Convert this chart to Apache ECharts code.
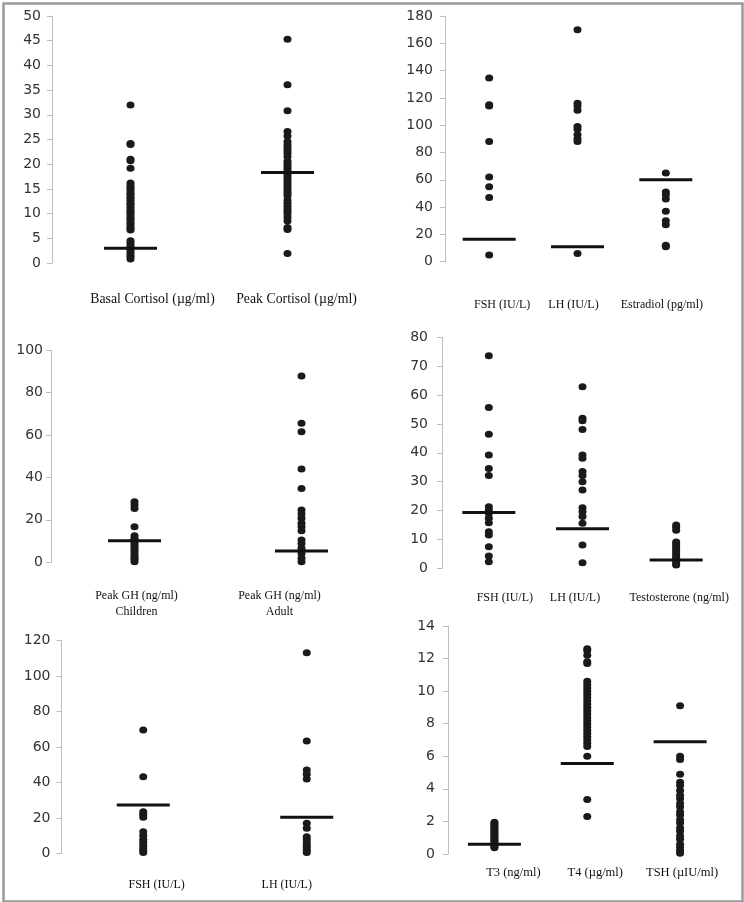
<!DOCTYPE html>
<html>
<head>
<meta charset="utf-8">
<script src="https://cdn.jsdelivr.net/npm/echarts@6/dist/echarts.min.js"></script>
<style>html,body{margin:0;padding:0;background:#fff}#c{width:744px;height:902px}</style>
</head>
<body>
<div id="c"></div>
<script>
// ---- Data ----
const p1Cats = ['Basal Cortisol (µg/ml)', 'Peak Cortisol (µg/ml)'];
const basalCortisol = [32, 24.2, 24, 21, 20.7, 19.2, 16.2, 15.8, 15.3, 15, 14.6, 14.1, 13.8, 13.3, 13, 12.6, 12.1, 11.8, 11.4, 11, 10.5, 10.2, 9.8, 9.3, 9, 8.6, 8.1, 7.8, 7.3, 7, 6.7, 4.5, 4.1, 3.6, 3.1, 2.6, 2.1, 1.6, 1.2, 0.8];
const peakCortisol = [45.3, 36.1, 30.8, 26.6, 25.7, 24.6, 24, 23.4, 22.8, 22.2, 21.5, 20.6, 20.1, 19.6, 19.1, 18.6, 18.1, 17.6, 17.1, 16.6, 16.1, 15.6, 15.1, 14.6, 14.1, 13.6, 12.7, 12.1, 11.5, 11, 10.5, 9.9, 9.2, 8.5, 7.2, 6.8, 1.9];
const p1Medians = [3, 18.3];

const p2Cats = ['FSH (IU/L)', 'LH (IU/L)', 'Estradiol (pg/ml)'];
const fshFemale = [134.5, 115, 114, 88, 62, 55, 47, 5];
const lhFemale = [170, 116, 114, 111, 99, 97, 93, 90, 88, 6];
const estradiol = [65, 51, 49, 46, 37, 30, 27, 12, 11];
const p2Medians = [16.5, 11, 60];

const p3Cats = ['Peak GH (ng/ml)\nChildren', 'Peak GH (ng/ml)\nAdult'];
const ghChildren = [28.5, 27, 25.4, 16.8, 12.5, 11.3, 10.4, 9.6, 8.5, 7.4, 6.4, 5.3, 4.4, 3.2, 2.3, 1.4, 0.3];
const ghAdult = [87.8, 65.5, 61.5, 43.9, 34.8, 24.6, 22.7, 20.7, 18.4, 16.8, 14.9, 10.5, 8.9, 6.6, 4.2, 1.9, 0.3];
const p3Medians = [10.2, 5.3];

const p4Cats = ['FSH (IU/L)', 'LH (IU/L)', 'Testosterone (ng/ml)'];
const fshMale = [73.6, 55.7, 46.4, 39.2, 34.6, 32.1, 21.3, 20.2, 19, 17.3, 15.8, 12.7, 11.5, 7.5, 4.3, 2.3];
const lhMale = [62.9, 52, 51.1, 48.1, 39.2, 38.1, 33.5, 32.1, 30, 27.1, 21, 19.6, 17.9, 15.6, 8.1, 1.9];
const testosterone = [15, 14.2, 13.2, 9.1, 8.4, 7.6, 6.8, 6.1, 5.3, 4.6, 3.8, 3.1, 2.3, 1.6, 1.1];
const p4Medians = [19.3, 13.7, 2.9];

const p5Cats = ['FSH (IU/L)', 'LH (IU/L)'];
const fshOther = [69.6, 43.2, 23.5, 22, 20.3, 12.2, 10, 8, 6.2, 4.5, 3, 1.6, 0.4];
const lhOther = [113.2, 63.4, 47, 44.6, 41.9, 16.9, 14.1, 9.4, 7.6, 6, 4.6, 3.1, 1.7, 0.4];
const p5Medians = [27.3, 20.4];

const p6Cats = ['T3 (ng/ml)', 'T4 (µg/ml)', 'TSH (µIU/ml)'];
const t3 = [1.95, 1.85, 1.75, 1.65, 1.55, 1.45, 1.35, 1.25, 1.15, 1.05, 0.95, 0.85, 0.75, 0.65, 0.55, 0.45, 0.38];
const t4 = [12.6, 12.5, 12.2, 11.8, 11.7, 10.6, 10.4, 10.2, 10, 9.8, 9.6, 9.4, 9.2, 9, 8.8, 8.6, 8.4, 8.2, 8, 7.8, 7.6, 7.4, 7.2, 7, 6.8, 6.6, 6, 3.35, 2.3];
const tsh = [9.1, 6, 5.8, 4.9, 4.4, 4.2, 3.9, 3.6, 3.4, 3.1, 2.9, 2.6, 2.4, 2.1, 1.9, 1.6, 1.4, 1.1, 0.9, 0.6, 0.4, 0.2, 0.05];
const p6Medians = [0.6, 5.55, 6.9];

const yMax = [50, 180, 100, 80, 120, 14];
const yInterval = [5, 20, 20, 10, 20, 2];

const panels = [
  { cats: p1Cats, values: [basalCortisol, peakCortisol], medians: p1Medians },
  { cats: p2Cats, values: [fshFemale, lhFemale, estradiol], medians: p2Medians },
  { cats: p3Cats, values: [ghChildren, ghAdult], medians: p3Medians },
  { cats: p4Cats, values: [fshMale, lhMale, testosterone], medians: p4Medians },
  { cats: p5Cats, values: [fshOther, lhOther], medians: p5Medians },
  { cats: p6Cats, values: [t3, t4, tsh], medians: p6Medians }
];

// ---- Layout / style ----
const layout = [
  { left: 52,   top: 16,    width: 314,   height: 247,   xMargin: 29, yMargin: 11, shifts: [22, 9],       lh: 15, fs: 13.8 },
  { left: 445,  top: 16,    width: 265,   height: 245.7, xMargin: 36, yMargin: 12, shifts: [13, -4, -4],  lh: 14, fs: 12 },
  { left: 51,   top: 350,   width: 334,   height: 212.3, xMargin: 26, yMargin: 8,  shifts: [2, -22],      lh: 16, fs: 12 },
  { left: 442,  top: 337.3, width: 281,   height: 231,   xMargin: 23, yMargin: 14, shifts: [16, -7.5, 3], lh: 14, fs: 12 },
  { left: 61.5, top: 640.7, width: 327,   height: 212.6, xMargin: 25, yMargin: 11, shifts: [13.4, -20],   lh: 14, fs: 12 },
  { left: 448,  top: 626,   width: 278.5, height: 228,   xMargin: 12, yMargin: 13, shifts: [19, 8, 2],    lh: 14, fs: 12.5 }
];

const grids = [], xAxes = [], yAxes = [], series = [];
panels.forEach((p, k) => {
  const L = layout[k];
  grids.push({ left: L.left, top: L.top, width: L.width, height: L.height, containLabel: false, outerBoundsMode: 'none' });
  const rich = {};
  L.shifts.forEach((d, i) => {
    rich['s' + i] = {
      fontFamily: 'Liberation Serif', fontSize: L.fs, color: '#111', lineHeight: L.lh,
      padding: d >= 0 ? [0, 0, 0, 2 * d] : [0, -2 * d, 0, 0]
    };
  });
  xAxes.push({
    type: 'category', gridIndex: k, data: p.cats, boundaryGap: true,
    axisLine: { show: false }, axisTick: { show: false }, splitLine: { show: false },
    axisLabel: {
      interval: 0, margin: L.xMargin,
      formatter: (v, i) => v.split('\n').map(s => '{s' + i + '|' + s + '}').join('\n'),
      rich: rich
    }
  });
  yAxes.push({
    type: 'value', gridIndex: k, min: 0, max: yMax[k], interval: yInterval[k],
    axisLine: { show: true, lineStyle: { color: '#bdbdbd', width: 1 } },
    axisTick: { show: true, length: 5, lineStyle: { color: '#bdbdbd' } },
    splitLine: { show: false },
    axisLabel: { margin: L.yMargin, fontFamily: 'DejaVu Sans', fontSize: 14, color: '#333' }
  });
  const pts = [];
  p.values.forEach((arr, i) => arr.forEach(v => pts.push([i, v])));
  series.push({
    type: 'scatter', xAxisIndex: k, yAxisIndex: k, data: pts,
    symbol: 'circle', symbolSize: [8, 7], itemStyle: { color: '#1a1a1a', opacity: 1 },
    z: 2, silent: true
  });
  series.push({
    type: 'scatter', xAxisIndex: k, yAxisIndex: k,
    data: p.medians.map((m, i) => [i, m]),
    symbol: 'rect', symbolSize: [53, 3], itemStyle: { color: '#111', opacity: 1 },
    z: 3, silent: true
  });
});

const chart = echarts.init(document.getElementById('c'), null, { renderer: 'canvas' });
chart.setOption({
  backgroundColor: '#fff',
  animation: false,
  grid: grids, xAxis: xAxes, yAxis: yAxes, series: series,
  graphic: [{
    type: 'rect', left: 1, top: 1, silent: true,
    shape: { width: 739, height: 898 },
    style: { fill: 'none', stroke: '#9a9a9a', lineWidth: 2.5 }
  }]
});
</script>
</body>
</html>
